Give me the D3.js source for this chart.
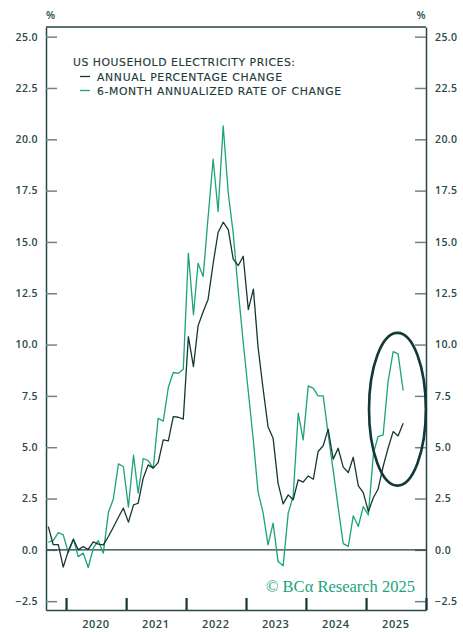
<!DOCTYPE html>
<meta charset="utf-8">
<style>
body { margin: 0; background: #fff; }
svg { display: block; }
.ticklabel { font-family: "Open Sans", sans-serif; font-size: 10.5px; font-weight: 600; letter-spacing: 0.4px; fill: #2b4848; }
.legend { font-family: "DejaVu Sans", sans-serif; font-size: 10.8px; fill: #1e3c3c; stroke: #1e3c3c; stroke-width: 0.15px; }
.line { fill: none; stroke-width: 1.3px; stroke-linejoin: round; }
</style>
<body>
<script src="https://d3js.org/d3.v7.min.js"></script>
<script>

// monthly observations, Sep 2019 .. Aug 2025
var firstMonth = new Date(2019, 8, 15);

var annualChange = [
  1.13, 0.25, 0.25, -0.84,
  -0.05, 0.52, 0.00, 0.16, 0.02, 0.39, 0.28, 0.24, 0.65, 1.10, 1.59, 2.03,
  1.35, 2.19, 2.27, 3.49, 4.14, 3.98, 4.25, 5.36, 5.31, 6.49, 6.46, 6.37,
  10.39, 8.93, 10.91, 11.6, 12.2, 13.96, 15.46, 15.96, 15.6, 14.16, 13.85, 14.3,
  11.7, 12.7, 9.9, 7.85, 6.0, 5.44, 3.25, 2.24, 2.68, 2.44, 3.41, 3.3,
  3.6, 3.44, 4.79, 5.07, 5.88, 4.42, 4.95, 4.03, 3.77, 4.51, 3.12, 2.79,
  1.87, 2.55, 2.95, 4.06, 4.95, 5.76, 5.55, 6.17
];

var sixMonthRate = [
  0.37, 0.45, 0.84, 0.73,
  -0.13, 0.52, -0.33, -0.16, -0.86, 0.08, 0.45, -0.16, 1.82, 2.48, 4.19, 4.06,
  2.08, 4.61, 2.76, 4.45, 4.35, 3.98, 6.41, 6.27, 7.92, 8.64, 8.6, 8.8,
  14.45, 11.45, 13.96, 13.31, 16.2, 19.03, 16.48, 20.65, 17.37, 15.43, 12.6, 10.1,
  7.7, 5.3, 2.85, 1.8, 0.24, 1.3, -0.57, -0.78, 1.79, 2.6, 6.66, 5.36,
  7.99, 7.87, 7.5, 7.5, 5.65, 3.87, 2.08, 0.3, 0.17, 1.66, 1.14, 2.11,
  1.7, 4.7, 5.52, 5.6, 8.2, 9.66, 9.55, 7.76
];

var yTicks = [-2.5, 0, 2.5, 5, 7.5, 10, 12.5, 15, 17.5, 20, 22.5, 25];
var yearLabels = [2020, 2021, 2022, 2023, 2024, 2025];

var dates = annualChange.map(function(d, i) { return d3.timeMonth.offset(firstMonth, i); });

var dark = "#163636", green = "#1ba37b", frame = "#264646";

var width = 463, height = 632;
var margin = {top: 27, right: 37, bottom: 22, left: 46};

var x = d3.scaleTime()
    .domain([new Date(2019, 8, 1), new Date(2026, 0, 1)])
    .range([margin.left, width - margin.right]);
var y = d3.scaleLinear()
    .domain([-2.93, 25.47])
    .range([height - margin.bottom, margin.top]);

var svg = d3.select("body").append("svg")
    .attr("width", width)
    .attr("height", height);

// y axes, ticks pointing inward
function styleAxis(g) {
  g.select(".domain").attr("stroke", frame).attr("stroke-width", 1.5);
  g.selectAll(".tick line").attr("stroke", "#6f8585").attr("stroke-width", 1.5);
  g.selectAll(".tick text").attr("class", "ticklabel").attr("fill", null);
  g.attr("font-family", null).attr("font-size", null);
}

svg.append("g")
    .attr("transform", "translate(" + margin.left + ",0)")
    .call(d3.axisLeft(y).tickValues(yTicks).tickFormat(d3.format(".1f"))
      .tickSizeInner(-11).tickSizeOuter(0).tickPadding(8))
    .call(styleAxis);

svg.append("g")
    .attr("transform", "translate(" + (width - margin.right) + ",0)")
    .call(d3.axisRight(y).tickValues(yTicks).tickFormat(d3.format(".1f"))
      .tickSizeInner(-11).tickSizeOuter(0).tickPadding(9))
    .call(styleAxis);

// top border
svg.append("line")
    .attr("x1", margin.left).attr("x2", width - margin.right)
    .attr("y1", margin.top).attr("y2", margin.top)
    .attr("stroke", frame).attr("stroke-width", 1.5);

// bottom axis with year ticks
var xAxis = svg.append("g")
    .attr("transform", "translate(0," + (height - margin.bottom) + ")")
    .call(d3.axisBottom(x).ticks(d3.timeYear.every(1)).tickFormat("")
      .tickSizeInner(-12).tickSizeOuter(0));
xAxis.select(".domain").attr("stroke", frame).attr("stroke-width", 1.5);
xAxis.selectAll(".tick line").attr("stroke", "#173535").attr("stroke-width", 2.2);

svg.selectAll(".yearlabel")
    .data(yearLabels)
  .enter().append("text")
    .attr("class", "ticklabel")
    .attr("x", function(d) { return x(new Date(d, 6, 1)); })
    .attr("y", 628)
    .attr("text-anchor", "middle")
    .style("font-size", "11px")
    .style("letter-spacing", "0.6px")
    .text(function(d) { return d; });

// % units
svg.append("text").attr("class", "ticklabel").attr("x", margin.left).attr("y", 19).text("%");
svg.append("text").attr("class", "ticklabel").attr("x", width - margin.right).attr("y", 19)
    .attr("text-anchor", "end").text("%");

// zero line
svg.append("line")
    .attr("x1", margin.left).attr("x2", width - margin.right)
    .attr("y1", y(0)).attr("y2", y(0))
    .attr("stroke", "#1c3b3b").attr("stroke-width", 1.3);

var line = d3.line()
    .x(function(d, i) { return x(dates[i]); })
    .y(function(d) { return y(d); });

svg.append("path").datum(sixMonthRate)
    .attr("class", "line").attr("stroke", green).attr("d", line);
svg.append("path").datum(annualChange)
    .attr("class", "line").attr("stroke", dark).attr("d", line);

// annotation ellipse around latest readings
var ex0 = x(new Date(2025, 0, 19)), ex1 = x(new Date(2025, 11, 31));
svg.append("ellipse")
    .attr("cx", (ex0 + ex1) / 2)
    .attr("cy", (y(10.57) + y(3.13)) / 2)
    .attr("rx", (ex1 - ex0) / 2)
    .attr("ry", (y(3.13) - y(10.57)) / 2)
    .attr("fill", "none")
    .attr("stroke", "#123838")
    .attr("stroke-width", 2.6);

// legend
var legend = svg.append("g").attr("class", "legend");
legend.append("text").attr("x", 73).attr("y", 66)
    .attr("textLength", 222).attr("lengthAdjust", "spacing")
    .text("US HOUSEHOLD ELECTRICITY PRICES:");
legend.append("line").attr("x1", 80).attr("x2", 90).attr("y1", 76.5).attr("y2", 76.5)
    .attr("stroke", dark).attr("stroke-width", 1.3);
legend.append("text").attr("x", 97).attr("y", 81)
    .attr("textLength", 185).attr("lengthAdjust", "spacing")
    .text("ANNUAL PERCENTAGE CHANGE");
legend.append("line").attr("x1", 80).attr("x2", 90).attr("y1", 90.5).attr("y2", 90.5)
    .attr("stroke", green).attr("stroke-width", 1.3);
legend.append("text").attr("x", 97).attr("y", 95)
    .attr("textLength", 244).attr("lengthAdjust", "spacing")
    .text("6-MONTH ANNUALIZED RATE OF CHANGE");

// source
svg.append("text")
    .attr("x", 415).attr("y", 592)
    .attr("text-anchor", "end")
    .style("font-family", "'Liberation Serif', serif")
    .style("font-size", "16.5px")
    .style("fill", green)
    .text("\u00a9 BC\u03b1 Research 2025");

</script>
</body>
